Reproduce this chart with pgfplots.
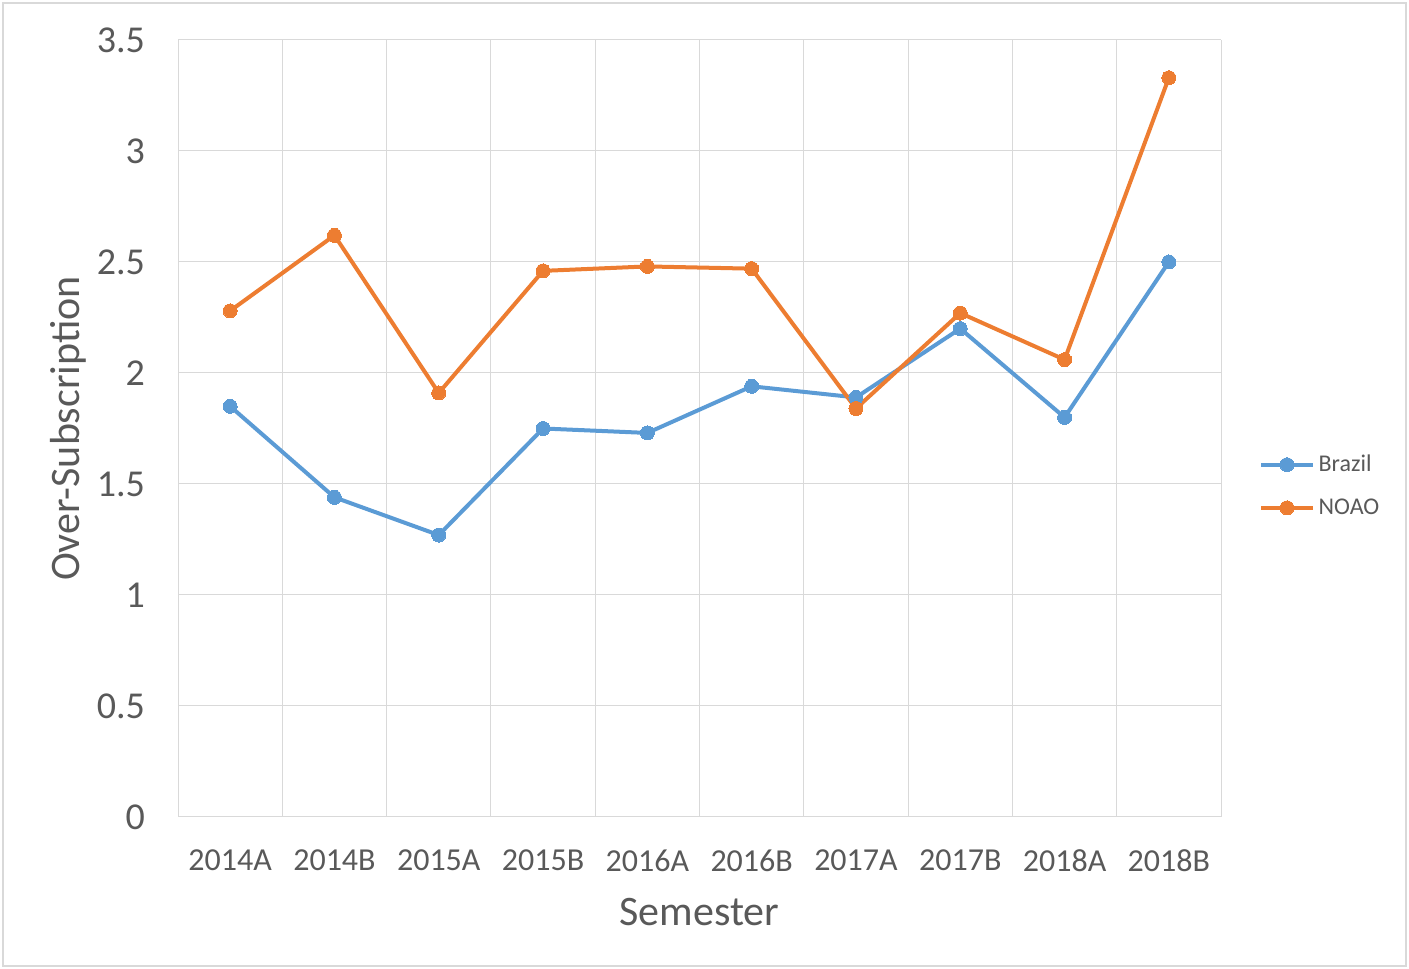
\documentclass[border=0pt]{standalone}
\usepackage{pgfplots}
\pgfplotsset{compat=1.18}
\usepackage{fontspec}
\setmainfont{Carlito}
\definecolor{txt}{HTML}{595959}
\definecolor{gridc}{HTML}{D9D9D9}
\definecolor{brazil}{HTML}{5B9BD5}
\definecolor{noao}{HTML}{ED7D31}
\begin{document}
\begin{tikzpicture}
\useasboundingbox (0,0) rectangle (704.5pt,484.5pt);
\draw[gridc, line width=0.75pt] (1.5pt,1.5pt) rectangle (703pt,483pt);
\begin{axis}[
  at={(89pt,76pt)}, anchor=south west,
  scale only axis, width=521.5pt, height=388.5pt,
  xmin=-0.5, xmax=9.5, ymin=0, ymax=3.5,
  xtick={0,...,9},
  xticklabels={2014A,2014B,2015A,2015B,2016A,2016B,2017A,2017B,2018A,2018B},
  minor xtick={-0.5,0.5,...,9.5},
  ytick={0,0.5,...,3.5},
  xmajorgrids=false, xminorgrids=true, ymajorgrids=true,
  grid style={gridc, line width=0.5pt},
  minor grid style={gridc, line width=0.5pt},
  axis line style={gridc, line width=0.5pt},
  axis x line*=bottom, axis y line*=left,
  tick style={draw=none},
  major tick length=0pt, minor tick length=0pt,
  /pgf/number format/assume math mode=true,
  xticklabel style={font=\fontsize{16}{18}\selectfont, text=txt, yshift=-13pt},
  yticklabel style={font=\fontsize{19}{21}\selectfont, text=txt, xshift=-13pt},
  xlabel={Semester}, ylabel={Over-Subscription},
  label style={font=\fontsize{21}{23}\selectfont, text=txt},
  xlabel style={at={(axis description cs:0.5,-0.1223)}, anchor=center},
  ylabel style={at={(axis description cs:-0.1055,0.5)}, anchor=center, rotate=0},
  legend style={at={(1,0.426)}, anchor=west, xshift=16pt, draw=none, fill=none,
     font=\fontsize{12}{14}\selectfont, text=txt, row sep=8pt},
  legend cell align=left,
  legend image code/.code={\draw[mark repeat=2,mark phase=2] plot coordinates {(0cm,0cm) (0.45cm,0cm) (0.9cm,0cm)};},
  every axis plot/.append style={line width=2pt, mark=*, mark size=3.5pt},
]
\addplot[color=brazil, mark options={fill=brazil, draw=brazil, line width=0pt}] coordinates {
(0,1.85) (1,1.44) (2,1.27) (3,1.75) (4,1.73) (5,1.94) (6,1.89) (7,2.20) (8,1.80) (9,2.50)};
\addlegendentry{Brazil}
\addplot[color=noao, mark options={fill=noao, draw=noao, line width=0pt}] coordinates {
(0,2.28) (1,2.62) (2,1.91) (3,2.46) (4,2.48) (5,2.47) (6,1.84) (7,2.27) (8,2.06) (9,3.33)};
\addlegendentry{NOAO}
\end{axis}
\end{tikzpicture}
\end{document}
